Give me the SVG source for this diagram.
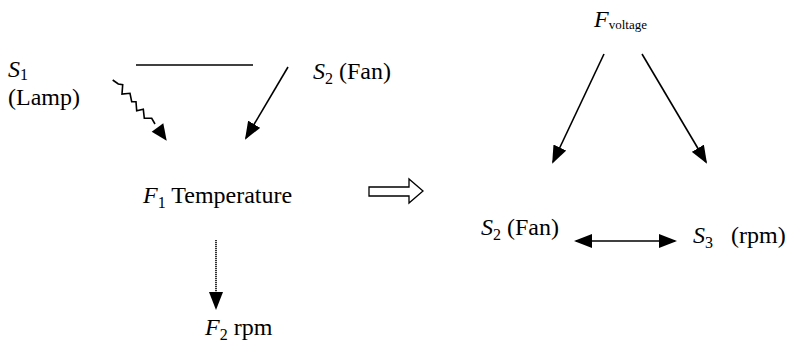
<svg xmlns="http://www.w3.org/2000/svg" width="792" height="348" viewBox="0 0 792 348">
<defs>
<style>
text{font-family:"Liberation Serif","Times New Roman",serif;font-size:24px;fill:#000}
.i{font-style:italic}
.sub{font-size:16px}
.sm{font-size:13px}
.ln{stroke:#000;stroke-width:1.6;fill:none}
</style>
<marker id="ah" markerUnits="userSpaceOnUse" markerWidth="18" markerHeight="14" refX="16" refY="7" orient="auto-start-reverse" viewBox="0 0 18 14">
<path d="M0,0 L18,7 L0,14 Z" fill="#000"/>
</marker>
</defs>
<rect width="792" height="348" fill="#fff"/>
<g id="s1"><text x="8" y="77"><tspan class="i">S</tspan><tspan class="sub" dy="3">1</tspan></text><text x="8" y="105">(Lamp)</text></g>
<g id="s2"><text x="313" y="79"><tspan class="i">S</tspan><tspan class="sub" dy="5">2</tspan><tspan dy="-5"> (Fan)</tspan></text></g>
<g id="f1"><text x="143" y="203"><tspan class="i">F</tspan><tspan class="sub" dy="5">1</tspan><tspan dy="-5"> Temperature</tspan></text></g>
<g id="f2"><text x="205" y="335"><tspan class="i">F</tspan><tspan class="sub" dy="5">2</tspan><tspan dy="-5"> rpm</tspan></text></g>
<g id="fv"><text x="594" y="27"><tspan class="i">F</tspan><tspan class="sm" dy="2">voltage</tspan></text></g>
<g id="s2r"><text x="481" y="235"><tspan class="i">S</tspan><tspan class="sub" dy="5">2</tspan><tspan dy="-5"> (Fan)</tspan></text></g>
<g id="s3"><text x="693" y="243"><tspan class="i">S</tspan><tspan class="sub" dy="5">3</tspan><tspan dy="-5" xml:space="preserve">   (rpm)</tspan></text></g>
<g id="implies"><polygon points="369,187 409,187 409,179 423,191 409,203 409,196 369,196" fill="#fff" stroke="#000" stroke-width="1.3"/></g>
<g id="connectors">
<line class="ln" x1="136" y1="65" x2="253" y2="65"/>
<line class="ln" x1="288" y1="67" x2="246" y2="138" marker-end="url(#ah)"/>
<polyline class="ln" stroke-width="2" points="112.7,80 118.3,84 122.7,84.7 122,94 130,93.3 131.7,101.7 136,101.7 136.7,110.7 143.3,109.3 144.3,118.3 151.7,118.3 155,124"/>
<polygon points="151.7,131.7 166.7,140.7 163.3,123.3" fill="#000"/>
<line class="ln" x1="216" y1="240" x2="216" y2="308" stroke-width="2.2" stroke-dasharray="1.2 0.8" marker-end="url(#ah)"/>
<line class="ln" x1="604" y1="54" x2="553" y2="162" marker-end="url(#ah)"/>
<line class="ln" x1="642" y1="54" x2="706" y2="162" marker-end="url(#ah)"/>
<line class="ln" x1="576" y1="241" x2="675" y2="241" marker-start="url(#ah)" marker-end="url(#ah)"/>
</g>
</svg>
